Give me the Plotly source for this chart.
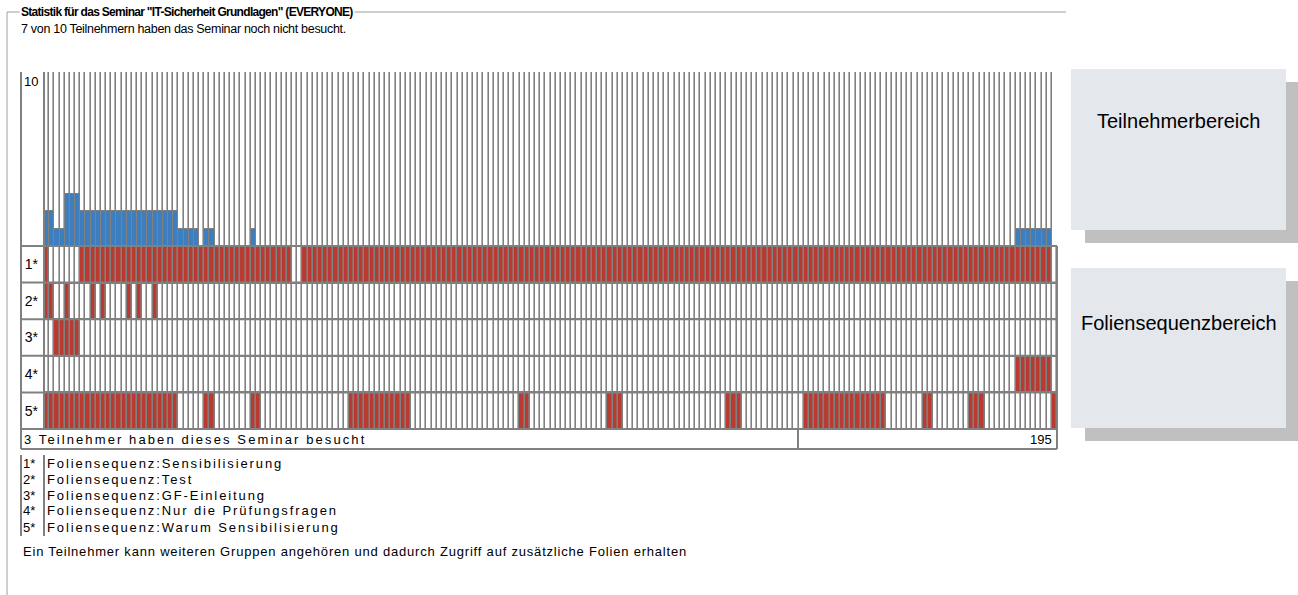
import plotly.graph_objects as go

W, H = 1298, 595

# ---------------- data ----------------
max_teilnehmer = 10
folien_anzahl = 195
spalten_sequenz = 196
teilnehmer_pro_folie = ([2, 2, 1, 1, 3, 3, 3] + [2] * 19 + [1] * 4 + [0] + [1, 1]
                        + [0] * 7 + [1] + [0] * 147 + [1] * 7)
sequenz_labels = ["1*", "2*", "3*", "4*", "5*"]
sequenz_namen = [
    "Foliensequenz:Sensibilisierung",
    "Foliensequenz:Test",
    "Foliensequenz:GF-Einleitung",
    "Foliensequenz:Nur die Prüfungsfragen",
    "Foliensequenz:Warum Sensibilisierung",
]
# visited slide ranges (inclusive) per sequence
sequenz_1 = [(1, 1), (8, 48), (51, 195)]
sequenz_2 = [(1, 2), (5, 5), (10, 10), (12, 12), (17, 17), (19, 19), (22, 22)]
sequenz_3 = [(3, 7)]
sequenz_4 = [(189, 195)]
sequenz_5 = [(1, 26), (32, 33), (41, 42), (60, 71), (93, 94), (110, 112),
             (133, 135), (148, 163), (171, 172), (180, 182), (196, 196)]

titel = 'Statistik für das Seminar "IT-Sicherheit Grundlagen" (EVERYONE)'
untertitel = "7 von 10 Teilnehmern haben das Seminar noch nicht besucht."
besucht_text = "3 Teilnehmer haben dieses Seminar besucht"
hinweis = "Ein Teilnehmer kann weiteren Gruppen angehören und dadurch Zugriff auf zusätzliche Folien erhalten"
box_texte = ["Teilnehmerbereich", "Foliensequenzbereich"]

BLUE = "#3d7ebf"
RED = "#b83a31"
GRID = "#808080"


def px(x):
    return x / W


def py(y):
    return 1 - y / H


z_rows = []
for ranges in [sequenz_1, sequenz_2, sequenz_3, sequenz_4, sequenz_5]:
    row = [0] * spalten_sequenz
    for a, b in ranges:
        for c in range(a, b + 1):
            row[c - 1] = 1
    z_rows.append(row)

fig = go.Figure()

# white background cells of the top area (gaps show grey grid)
fig.add_trace(go.Heatmap(
    z=[[0] * folien_anzahl],
    x=[i + 0.5 for i in range(folien_anzahl + 1)],
    y=[0, max_teilnehmer],
    colorscale=[[0, "#ffffff"], [1, "#ffffff"]],
    showscale=False, xgap=1.6, hoverinfo="skip",
    xaxis="x", yaxis="y",
))
fig.add_trace(go.Bar(
    x=list(range(1, folien_anzahl + 1)), y=teilnehmer_pro_folie,
    marker=dict(color=BLUE, line=dict(color=GRID, width=1)),
    xaxis="x", yaxis="y", hoverinfo="x+y",
))
fig.add_trace(go.Heatmap(
    z=z_rows,
    x=[i + 0.5 for i in range(spalten_sequenz + 1)],
    y=list(range(len(sequenz_labels))),
    colorscale=[[0, "#ffffff"], [1, RED]], zmin=0, zmax=1,
    showscale=False, xgap=1.6, ygap=2, hoverinfo="skip",
    xaxis="x2", yaxis="y2",
))

FONT = "Liberation Sans"
SP = "letter-spacing:2.1px"

layout = dict(
    width=W, height=H, margin=dict(l=0, r=0, t=0, b=0),
    paper_bgcolor="white", plot_bgcolor=GRID, showlegend=False, bargap=0,
    font=dict(family=FONT, size=13, color="black"),
    xaxis=dict(domain=[px(44), px(1052)], range=[0.5, folien_anzahl + 0.5],
               showgrid=False, zeroline=False, showticklabels=False, fixedrange=True),
    yaxis=dict(domain=[py(246), py(72)], range=[0, max_teilnehmer],
               showgrid=False, zeroline=False, showticklabels=False, fixedrange=True),
    xaxis2=dict(domain=[px(44), px(1057)], range=[0.5, spalten_sequenz + 0.5],
                showgrid=False, zeroline=False, showticklabels=False, fixedrange=True,
                anchor="y2"),
    yaxis2=dict(domain=[py(429), py(246)], range=[4.5, -0.5],
                tickvals=list(range(len(sequenz_labels))), ticktext=sequenz_labels,
                showgrid=False, zeroline=False, ticks="", ticklabelstandoff=5,
                tickfont=dict(family=FONT, size=14), fixedrange=True, anchor="x2"),
)

ln = dict(color=GRID, width=2)
shapes = []
# fieldset frame
shapes.append(dict(type="line", xref="paper", yref="paper", x0=px(7), x1=px(7), y0=py(12), y1=py(595), line=dict(color="#a0a0a0", width=1)))
shapes.append(dict(type="line", xref="paper", yref="paper", x0=px(7), x1=px(1066), y0=py(12), y1=py(12), line=dict(color="#a0a0a0", width=1)))
# chart frame
shapes.append(dict(type="line", xref="paper", yref="paper", x0=px(21), x1=px(21), y0=py(72), y1=py(449), line=ln))
shapes.append(dict(type="line", xref="x domain", yref="paper", x0=0, x1=0, y0=py(72), y1=py(429), line=ln))
for k in range(len(sequenz_labels) + 1):
    shapes.append(dict(type="line", xref="paper", yref="y2 domain", x0=px(21), x1=px(1057),
                       y0=k / len(sequenz_labels), y1=k / len(sequenz_labels), line=ln))
shapes.append(dict(type="line", xref="x2 domain", yref="paper", x0=1, x1=1, y0=py(246), y1=py(449), line=ln))
shapes.append(dict(type="line", xref="paper", yref="paper", x0=px(21), x1=px(1057), y0=py(449), y1=py(449), line=ln))
shapes.append(dict(type="line", xref="paper", yref="paper", x0=px(798), x1=px(798), y0=py(429), y1=py(449), line=ln))
# legend frame
shapes.append(dict(type="line", xref="paper", yref="paper", x0=px(21), x1=px(21), y0=py(455), y1=py(536), line=ln))
shapes.append(dict(type="line", xref="paper", yref="paper", x0=px(44), x1=px(44), y0=py(455), y1=py(536), line=ln))
# info boxes with shadow
for (x0, y0, x1, y1) in [(1071, 69, 1286, 230), (1071, 268, 1286, 428)]:
    shapes.append(dict(type="rect", xref="paper", yref="paper", x0=px(x0 + 14), x1=px(x1 + 12),
                       y0=py(y0 + 13), y1=py(y1 + 13), fillcolor="#c0c0c0", line=dict(width=0), layer="below"))
    shapes.append(dict(type="rect", xref="paper", yref="paper", x0=px(x0), x1=px(x1),
                       y0=py(y0), y1=py(y1), fillcolor="#e4e7ec", line=dict(width=0), layer="below"))
layout["shapes"] = shapes

ann = []
ann.append(dict(text=f'<span style="letter-spacing:-0.7px"><b>{titel}</b></span>', x=px(19), y=py(12), xref="paper", yref="paper",
                xanchor="left", yanchor="middle", showarrow=False, bgcolor="white", borderpad=1,
                font=dict(family=FONT, size=12)))
ann.append(dict(text=f'<span style="letter-spacing:-0.3px">{untertitel}</span>', x=px(19), y=py(29), xref="paper", yref="paper",
                xanchor="left", yanchor="middle", showarrow=False, font=dict(family=FONT, size=12.5)))
ann.append(dict(text=str(max_teilnehmer), x=px(22), y=max_teilnehmer, xref="paper", yref="y",
                xanchor="left", yanchor="top", showarrow=False, font=dict(family=FONT, size=13)))
ann.append(dict(text=f'<span style="{SP}">{besucht_text}</span>', x=px(22), y=py(439), xref="paper", yref="paper",
                xanchor="left", yanchor="middle", showarrow=False, font=dict(family=FONT, size=13)))
ann.append(dict(text=str(folien_anzahl), x=px(1054), y=py(439), xref="paper", yref="paper",
                xanchor="right", yanchor="middle", showarrow=False, font=dict(family=FONT, size=13)))
for i, (lab, name) in enumerate(zip(sequenz_labels, sequenz_namen)):
    ann.append(dict(text=lab, x=px(21), y=py(463 + 16 * i), xref="paper", yref="paper",
                    xanchor="left", yanchor="middle", showarrow=False, font=dict(family=FONT, size=13)))
    ann.append(dict(text=f'<span style="letter-spacing:1.9px">{name}</span>', x=px(45), y=py(463 + 16 * i), xref="paper", yref="paper",
                    xanchor="left", yanchor="middle", showarrow=False, font=dict(family=FONT, size=13)))
ann.append(dict(text=f'<span style="letter-spacing:0.8px">{hinweis}</span>', x=px(21), y=py(551), xref="paper", yref="paper",
                xanchor="left", yanchor="middle", showarrow=False, font=dict(family=FONT, size=13)))
for t, yc in zip(box_texte, [121, 323]):
    ann.append(dict(text=t, x=px(1178.5), y=py(yc), xref="paper", yref="paper",
                    xanchor="center", yanchor="middle", showarrow=False, font=dict(family=FONT, size=20)))
layout["annotations"] = ann

fig.update_layout(**layout)
fig.write_html("out.html", config={"displayModeBar": False},
               post_script="document.body.style.margin='0px';document.body.style.overflow='hidden';")
